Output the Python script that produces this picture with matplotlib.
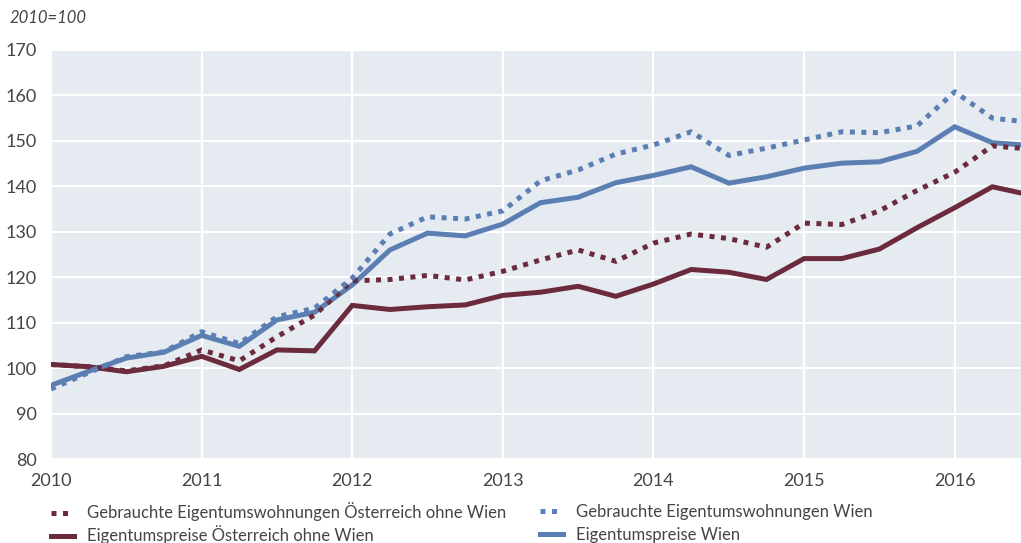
import matplotlib.pyplot as plt
import numpy as np

# quarterly index values, 2010=100
quarters = np.arange(2010, 2016.5 + 0.01, 0.25)

gebraucht_oe = [100.8, 100.3, 99.4, 100.5, 104.0, 101.6, 106.9, 111.7,
                119.2, 119.5, 120.4, 119.4, 121.3, 123.8, 126.0, 123.5,
                127.5, 129.5, 128.5, 126.6, 131.9, 131.6, 134.6, 139.1,
                143.1, 148.9, 148.2]
gebraucht_wien = [95.4, 99.0, 102.5, 103.6, 108.0, 105.4, 111.3, 113.2,
                  119.8, 129.5, 133.3, 132.8, 134.6, 141.2, 143.6, 147.1,
                  149.1, 152.0, 146.8, 148.4, 150.2, 152.0, 151.8, 153.3,
                  160.8, 155.0, 154.1]
eigentum_oe = [100.8, 100.3, 99.2, 100.4, 102.6, 99.7, 104.0, 103.8,
               113.8, 112.9, 113.5, 113.9, 116.0, 116.7, 118.0, 115.8,
               118.5, 121.7, 121.1, 119.5, 124.1, 124.1, 126.2, 130.9,
               135.3, 139.9, 138.1]
eigentum_wien = [96.2, 99.3, 102.2, 103.5, 107.2, 104.8, 110.6, 112.3,
                 118.3, 126.0, 129.7, 129.1, 131.7, 136.4, 137.6, 140.8,
                 142.4, 144.3, 140.7, 142.1, 144.0, 145.1, 145.4, 147.7,
                 153.1, 149.6, 149.0]

years = list(range(2010, 2017))
yticks = list(range(80, 171, 10))

MAROON = "#6b2b3d"
BLUE = "#5b7fb2"
BG = "#e6ebf2"
TXT = "#454545"

plt.rcParams["font.family"] = ["Lato", "DejaVu Sans"]

fig = plt.figure(figsize=(10.21, 5.43), dpi=100)
ax = fig.add_axes([51 / 1021, 1 - 459 / 543, 970 / 1021, 409 / 543])
ax.set_facecolor(BG)

lw = 3.6
l_eo, = ax.plot(quarters, eigentum_oe, color=MAROON, lw=lw,
                solid_joinstyle="miter", zorder=3)
l_ew, = ax.plot(quarters, eigentum_wien, color=BLUE, lw=lw,
                solid_joinstyle="miter", zorder=3)
l_go, = ax.plot(quarters, gebraucht_oe, color=MAROON, lw=lw, dashes=(1, 1.3),
                dash_capstyle="butt", zorder=4)
l_gw, = ax.plot(quarters, gebraucht_wien, color=BLUE, lw=lw, dashes=(1, 1.3),
                dash_capstyle="butt", zorder=4)

ax.set_xlim(2010, 2016.44)
ax.set_ylim(80, 170)
ax.set_xticks(years)
ax.set_xticklabels([str(y) for y in years])
ax.set_yticks(yticks)
ax.grid(True, color="white", lw=1.5, zorder=1)
ax.set_axisbelow(True)
for s in ax.spines.values():
    s.set_visible(False)
ax.tick_params(length=0, labelsize=13, labelcolor=TXT)
ax.tick_params(axis="x", pad=10)
ax.tick_params(axis="y", pad=10)

fig.text(10 / 1021, 1 - 18 / 543, "2010=100", fontsize=12, style="italic",
         color=TXT, va="center", ha="left")

# one legend per entry so both columns line up row by row
entries = [
    (l_go, "Gebrauchte Eigentumswohnungen Österreich ohne Wien", 51, 512),
    (l_eo, "Eigentumspreise Österreich ohne Wien", 51, 535),
    (l_gw, "Gebrauchte Eigentumswohnungen Wien", 540, 512),
    (l_ew, "Eigentumspreise Wien", 540, 535),
]
for handle, label, px, py in entries:
    fig.legend([handle], [label], loc="center left",
               bbox_to_anchor=(px / 1021, 1 - py / 543), frameon=False,
               fontsize=12, handlelength=1.4, handletextpad=0.75,
               labelcolor=TXT, borderaxespad=0, borderpad=0)

fig.savefig("out.png", dpi=100)
